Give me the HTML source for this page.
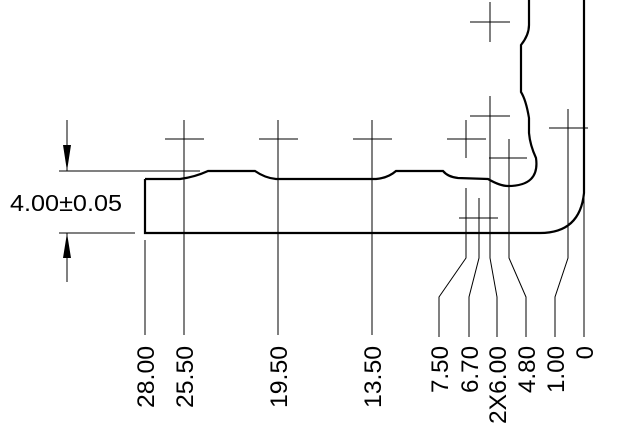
<!DOCTYPE html>
<html><head><style>body{margin:0;background:#fff}svg{display:block}</style></head><body>
<svg width="636" height="434" viewBox="0 0 636 434" xmlns="http://www.w3.org/2000/svg">
<g fill="none" stroke="#000" stroke-width="2.2">
<path d="M145,179 L145,233 L540,233 Q580,233 584,193 L584,0"/>
<path d="M145,179 L180,179 Q195,177 208,171 L255,171 Q265,178 276,179 L376,179 Q388,178 396,171 L443,171 Q448,177 458,178 L488,179 Q500,186 508,186 Q540,186 536,158 Q530,145 529,133 L529,118 Q526,100 521,92 L521,45 Q529,35 529,25 L529,0"/>
</g>
<g fill="none" stroke="#000" stroke-width="1">
<path d="M165,139H204M184,120V335"/>
<path d="M259,139H298M278,120V335"/>
<path d="M353,139H392M372,120V335"/>
<path d="M447,139H486M466,120V158"/>
<path d="M466,188V258L439,297V337"/>
<path d="M470,116H510M490,96V135"/>
<path d="M470,22H510M490,2V42"/>
<path d="M489,158H527M509,139V178"/>
<path d="M549,128H588M568,109V258L555,297V337"/>
<path d="M459,218H498M479,198V258L469,297V337"/>
<path d="M490,135V258L497,297V337"/>
<path d="M509,178V258L526,297V337"/>
<path d="M584,195V337"/>
<path d="M145,240V335"/>
<path d="M59,171H200M59,233H135"/>
<path d="M67,120V171M67,233V282"/>
</g>
<path d="M63,145L71,145L67,171Z" fill="#000"/>
<path d="M63,258L71,258L67,233Z" fill="#000"/>
<text x="10" y="211" font-family="Liberation Sans, sans-serif" font-size="23" textLength="112" lengthAdjust="spacingAndGlyphs">4.00±0.05</text>
<g font-family="Liberation Sans, sans-serif" font-size="24" text-anchor="end" lengthAdjust="spacingAndGlyphs">
<text transform="translate(154,346) rotate(-90)" textLength="62" lengthAdjust="spacingAndGlyphs">28.00</text>
<text transform="translate(193,346) rotate(-90)" textLength="62" lengthAdjust="spacingAndGlyphs">25.50</text>
<text transform="translate(287,346) rotate(-90)" textLength="62" lengthAdjust="spacingAndGlyphs">19.50</text>
<text transform="translate(381,346) rotate(-90)" textLength="62" lengthAdjust="spacingAndGlyphs">13.50</text>
<text transform="translate(448,346) rotate(-90)" textLength="47" lengthAdjust="spacingAndGlyphs">7.50</text>
<text transform="translate(478,346) rotate(-90)" textLength="47" lengthAdjust="spacingAndGlyphs">6.70</text>
<text transform="translate(506,346) rotate(-90)" textLength="78" lengthAdjust="spacingAndGlyphs">2X6.00</text>
<text transform="translate(535,346) rotate(-90)" textLength="47" lengthAdjust="spacingAndGlyphs">4.80</text>
<text transform="translate(564,346) rotate(-90)" textLength="47" lengthAdjust="spacingAndGlyphs">1.00</text>
<text transform="translate(593,346) rotate(-90)">0</text>
</g>
</svg>
</body></html>
